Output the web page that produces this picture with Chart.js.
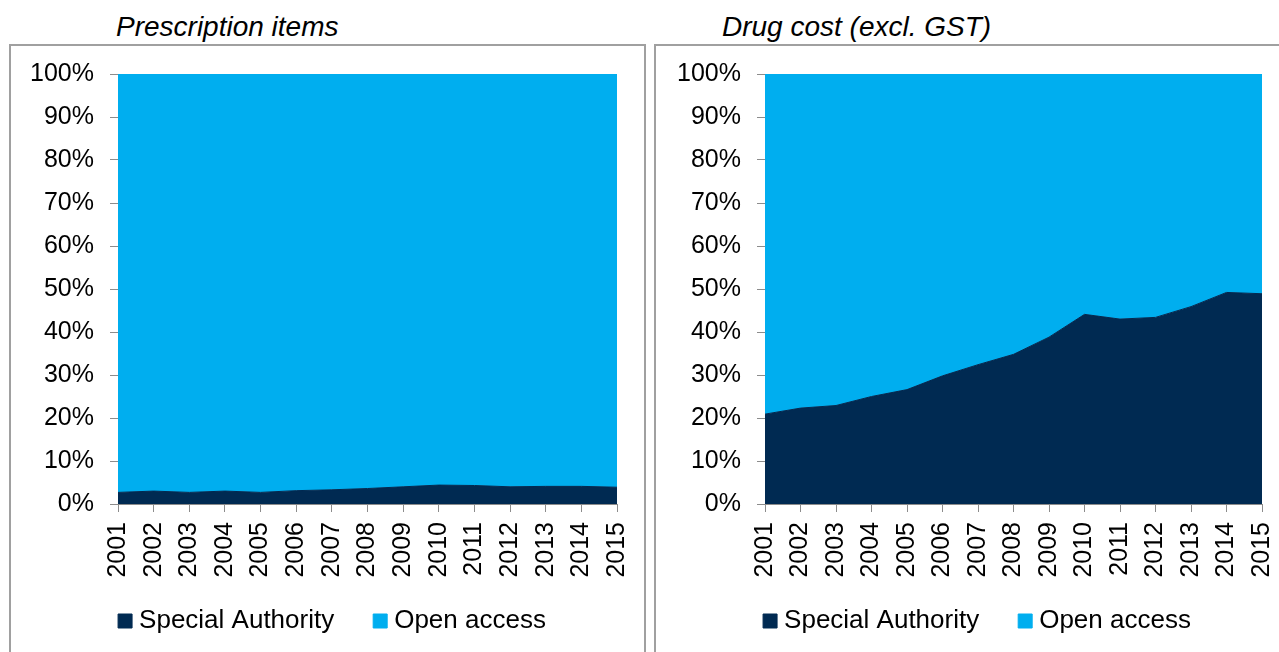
<!DOCTYPE html>
<html>
<head>
<meta charset="utf-8">
<script src="https://cdn.jsdelivr.net/npm/chart.js@4/dist/chart.umd.min.js"></script>
<style>
  body { margin: 0; width: 1279px; height: 652px; overflow: hidden; background: #fff; position: relative; font-family: "Liberation Sans", Arial, sans-serif; }
  .titulo { position: absolute; top: 13px; font-size: 28px; line-height: 28px; font-style: italic; color: #000; white-space: nowrap; }
  .painel { position: absolute; top: 44px; height: 700px; border: 2px solid #a0a0a0; box-sizing: border-box; }
  .caixa { position: relative; height: 620px; }
</style>
</head>
<body>
<div class="titulo" style="left:116px">Prescription items</div>
<div class="titulo" style="left:722px">Drug cost (excl. GST)</div>
<div class="painel" style="left:9px; width:637px;"><div class="caixa" style="width:633px"><canvas id="grafico1"></canvas></div></div>
<div class="painel" style="left:654px; width:648px;"><div class="caixa" style="width:644px"><canvas id="grafico2"></canvas></div></div>
<script>
// anos (eixo x)
var anos = ['2001', '2002', '2003', '2004', '2005', '2006', '2007', '2008', '2009', '2010', '2011', '2012', '2013', '2014', '2015']

// prescription items (%)
var itensEspecial = [2.7, 3.0, 2.7, 3.0, 2.7, 3.1, 3.3, 3.6, 4.0, 4.4, 4.3, 4.0, 4.1, 4.1, 3.9]
var itensAberto = [97.3, 97.0, 97.3, 97.0, 97.3, 96.9, 96.7, 96.4, 96.0, 95.6, 95.7, 96.0, 95.9, 95.9, 96.1]

// drug cost (%)
var custoEspecial = [20.9, 22.3, 22.9, 25.0, 26.6, 29.8, 32.4, 34.8, 38.8, 44.1, 43.0, 43.4, 45.9, 49.2, 48.9]
var custoAberto = [79.1, 77.7, 77.1, 75.0, 73.4, 70.2, 67.6, 65.2, 61.2, 55.9, 57.0, 56.6, 54.1, 50.8, 51.1]

var nomes = ['Special Authority', 'Open access']
var corEscura = '#002a52'
var corClara = '#00aeef'
var corEixo = '#8c8c8c'
var fonte = 'Liberation Sans'

// empurra a legenda (no original ela fica centrada no painel, nao no espaco do grafico)
var moverLegenda = {
    id: 'moverLegenda',
    afterLayout: function (chart, args, opcoes) {
        var leg = chart.legend
        var meio = (leg.left + leg.right) / 2
        var desloc = opcoes.centro - meio
        leg.left += desloc
        leg.right += desloc
        leg.top += opcoes.dy
        leg.bottom += opcoes.dy
    }
}

function criarGrafico(id, especial, aberto, larguraY, direita, centroLegenda) {
    var dados = {
        labels: anos,
        datasets: [
            {
                label: nomes[0],
                data: especial,
                backgroundColor: corEscura,
                borderColor: corEscura,
                borderWidth: 1,
                pointRadius: 0,
                fill: 'origin',
                tension: 0
            },
            {
                label: nomes[1],
                data: aberto,
                backgroundColor: corClara,
                borderColor: corClara,
                borderWidth: 1,
                pointRadius: 0,
                fill: '-1',
                tension: 0
            }
        ]
    }

    var config = {
        type: 'line',
        data: dados,
        options: {
            responsive: true,
            maintainAspectRatio: false,
            animation: false,
            layout: { padding: { top: 28, right: direita, bottom: 7, left: 0 } },
            plugins: {
                tooltip: { enabled: false },
                moverLegenda: { centro: centroLegenda, dy: -15 },
                legend: {
                    position: 'bottom',
                    labels: {
                        usePointStyle: true,
                        pointStyle: 'rect',
                        boxWidth: 2,
                        boxHeight: 14,
                        padding: 45,
                        color: '#000',
                        font: { family: fonte, size: 26 }
                    }
                }
            },
            scales: {
                x: {
                    offset: false,
                    grid: { drawOnChartArea: false, drawTicks: true, tickLength: 8, color: corEixo },
                    border: { color: corEixo },
                    ticks: {
                        autoSkip: false,
                        minRotation: 90,
                        maxRotation: 90,
                        padding: 10,
                        color: '#000',
                        font: { family: fonte, size: 25 }
                    },
                    afterFit: function (escala) {
                        escala.height = 74
                        escala.paddingLeft = 0
                        escala.paddingRight = 0
                    }
                },
                y: {
                    stacked: true,
                    min: 0,
                    max: 100,
                    grid: { drawOnChartArea: false, drawTicks: true, tickLength: 8, color: corEixo },
                    border: { color: corEixo },
                    ticks: {
                        stepSize: 10,
                        padding: 16,
                        color: '#000',
                        font: { family: fonte, size: 25 },
                        callback: function (v) { return v + '%' }
                    },
                    afterFit: function (escala) {
                        escala.width = larguraY
                        escala.paddingTop = 0
                        escala.paddingBottom = 0
                    }
                }
            }
        },
        plugins: [moverLegenda]
    }

    return new Chart(document.getElementById(id), config)
}

// centro da legenda em coordenadas do canvas
criarGrafico('grafico1', itensEspecial, itensAberto, 107, 27, 335 - 11)
criarGrafico('grafico2', custoEspecial, custoAberto, 109, 38, 980 - 656)
</script>
</body>
</html>
